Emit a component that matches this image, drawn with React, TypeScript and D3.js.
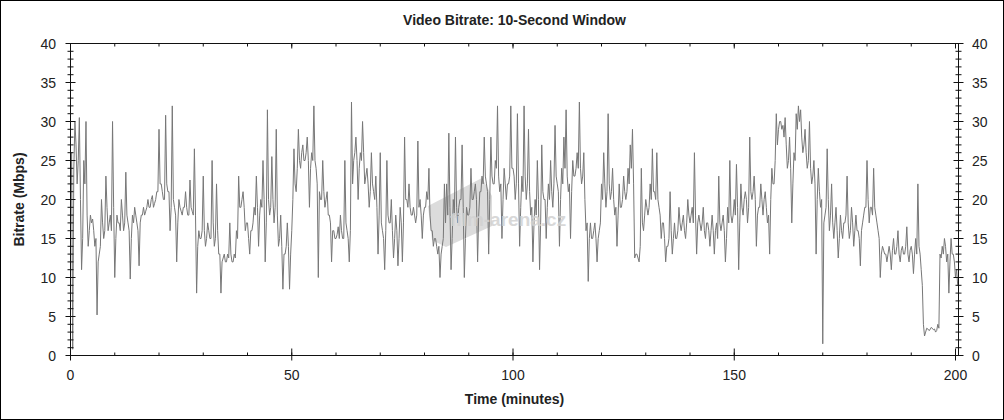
import * as d3 from "d3";

// peak samples, one every half minute (t = 0, 0.5, 1, ...)
const SAMPLE_MINUTES = 0.5;
const bitrateMbps = [
  18, 0.8, 30, 22, 30.5, 11, 25, 30, 14, 18,
  17.5, 14, 5.2, 13, 20, 15, 23, 16, 18, 30,
  10, 18, 17, 20, 16, 23.5, 17, 9.8, 18, 19,
  17, 11.5, 18, 19, 18.5, 20, 19, 20.5, 19.5, 21,
  29, 22, 20, 30.8, 21, 16, 32, 19, 12, 20,
  18.5, 19, 21, 18, 22.5, 18.5, 26.5, 8, 16, 15,
  23, 14, 17, 15, 25, 14, 22, 13, 8, 12.5,
  12, 13, 17, 12, 13, 16, 23, 19, 21, 16,
  17, 13, 16, 19, 23, 14, 20, 25, 12, 31.5,
  18, 25.5, 17, 29, 14, 18, 8.5, 13, 17, 8.5,
  16, 26.5, 21, 29, 24, 27, 25, 28, 19, 26,
  32, 24, 10, 20, 25, 19, 21, 18, 12, 16,
  15, 16.5, 18, 15, 25, 16, 12, 32.5, 25, 28,
  20, 26, 30, 22, 24, 19, 26, 21, 23, 13,
  26, 16, 11, 25, 17, 20, 12.5, 18, 11.5, 19,
  12, 28, 20, 22, 18, 19, 17, 27.5, 20, 15,
  19, 21, 24, 16, 14, 15, 13, 10, 14, 22,
  22, 28.5, 11, 20, 28, 17, 20, 27, 10, 19,
  18, 24, 20, 22, 12, 21, 23, 28, 22, 13,
  28, 22, 25, 32, 21, 15, 24, 20, 22, 32,
  24, 20, 31, 14, 23, 32, 20, 29, 18, 12,
  20, 25, 11, 27, 20, 15, 22, 25, 19, 29.5,
  22, 14, 24, 28, 31.5, 21, 15, 25, 23, 26,
  32.5, 22, 26, 16, 9.5, 17, 15, 17, 12, 16,
  22, 26, 19, 31, 20, 24, 18, 14, 22, 19,
  23, 20, 24, 27, 29, 12.5, 13, 12, 24, 16,
  20, 18, 22, 26.5, 21, 26, 19, 15, 17, 12,
  14, 21, 13, 17, 15, 19, 16, 18, 15, 20,
  17, 19, 26, 13, 18, 16, 19, 15, 17, 14,
  18, 13, 17, 23, 16, 18, 12, 19, 25, 17,
  20, 24.5, 11, 22, 18, 21, 17, 28, 20, 23,
  14, 19, 22, 18, 21, 17, 13, 24, 22, 31,
  29, 30, 29.5, 30.5, 24, 28, 17, 26, 31, 32,
  31.5, 26, 29, 24, 30, 22, 25, 13, 24, 19,
  1.5, 18, 26.5, 16, 22, 15, 19, 12.5, 18, 15,
  17, 23, 15, 19, 14, 18, 16, 11.5, 17, 19,
  25, 17, 19, 24, 18, 16, 10, 14, 13, 12,
  14, 11, 15, 13, 16, 12, 14, 13, 16.5, 12,
  14, 10.5, 15, 22, 13, 9, 2.5, 3.5, 3.2, 3.6,
  3.3, 3, 4, 13, 14, 15, 12, 8, 15, 13,
  10, 9,
];

// the dense band between the peaks, read at t = 0.25, 0.75, 1.25, ...
const bandMbps = [
  26, 24, 27, 25, 20, 15, 22, 18, 16, 17,
  16, 15, 12, 14, 17, 16, 19, 17, 16, 19,
  15, 17, 16, 18, 17, 18, 16, 15, 17, 18,
  16, 17, 18, 18, 19, 19, 20, 19, 20, 21,
  22, 21, 20, 22, 21, 19, 20, 18, 17, 19,
  18, 19, 19, 18, 19, 18, 18, 14, 15, 16,
  16, 15, 16, 15, 17, 15, 16, 13, 12, 13,
  12, 12.5, 13, 12, 12.5, 15, 19, 20, 19, 17,
  15, 16, 17, 18, 19, 18, 19, 20, 17, 20,
  19, 20, 19, 18, 15, 14, 13, 14, 14, 13,
  20, 22, 24, 25, 26, 25, 26, 25, 24, 25,
  25, 22, 21, 20, 21, 20, 18, 17, 16, 15,
  15.5, 15, 16, 15, 17, 15, 16, 22, 26, 25,
  24, 25, 26, 23, 22, 21, 22, 20, 19, 18,
  17, 15, 16, 18, 17, 16, 15, 16, 15, 17,
  17, 20, 19, 19, 18, 18, 18, 19, 18, 18,
  19, 20, 18, 16, 15, 14, 14, 13, 15, 17,
  18, 19, 15, 18, 19, 19, 20, 19, 15, 18,
  19, 20, 21, 20, 18, 21, 22, 23, 21, 20,
  23, 22, 24, 23, 22, 20, 22, 22, 23, 24,
  23, 22, 22, 19, 21, 23, 22, 21, 19, 17,
  18, 20, 17, 21, 20, 19, 20, 21, 22, 23,
  21, 20, 22, 24, 23, 22, 21, 23, 24, 24,
  24, 23, 20, 17, 15, 15, 16, 15, 15, 17,
  20, 22, 21, 22, 21, 20, 19, 18, 19, 20,
  21, 21, 22, 24, 22, 13, 12.5, 14, 17, 18,
  19, 19, 20, 21, 20, 20, 18, 17, 15, 14,
  15, 16, 15, 15, 16, 17, 17, 16, 17, 18,
  18, 17, 18, 17, 17, 17, 16, 17, 16, 16,
  16, 16, 15, 17, 17, 16, 15, 17, 18, 18,
  18, 19, 17, 19, 20, 20, 19, 21, 21, 20,
  18, 19, 20, 20, 19, 18, 20, 22, 25, 27,
  30, 29, 28, 27, 25, 24, 22, 25, 29, 30,
  28, 27, 26, 25, 24, 23, 22, 20, 21, 20,
  17, 19, 20, 18, 17, 17, 16, 15, 16, 17,
  18, 17, 16, 17, 16, 16, 15, 16, 18, 19,
  20, 19, 18, 19, 17, 15, 13, 13.5, 13, 13,
  13, 13.5, 13, 14, 13, 13.5, 13, 14, 13, 13.5,
  13, 13, 13, 14, 11, 4, 3, 3.4, 3.3, 3.5,
  3.4, 3.2, 3.5, 12.5, 13, 14, 13, 12, 13, 12,
  11,
];

const xTickValues = [0, 50, 100, 150, 200];
const xMinorTicks = d3.range(0, 201, 10);
const yTickValues = [0, 5, 10, 15, 20, 25, 30, 35, 40];
const yMinorTicks = d3.range(0, 41, 1);

const TITLE = "Video Bitrate: 10-Second Window";
const X_LABEL = "Time (minutes)";
const Y_LABEL = "Bitrate (Mbps)";
const WATERMARK = "film-arena.cz";

const W = 1004;
const H = 420;
const FONT = "'Liberation Sans', Arial, sans-serif";

export default function App() {
  const x = d3.scaleLinear().domain([0, 200]).range([70.5, 955.5]);
  const y = d3.scaleLinear().domain([0, 40]).range([355.5, 43.5]);
  const left = x(0);
  const right = 958.5;
  const top = y(40);
  const bottom = y(0);

  // merge peaks and band into one time-ordered series
  const samples: [number, number][] = [];
  bitrateMbps.forEach((v, i) => {
    samples.push([i * SAMPLE_MINUTES, v]);
    if (i < bandMbps.length) samples.push([i * SAMPLE_MINUTES + SAMPLE_MINUTES / 2, bandMbps[i]]);
  });

  const path = d3
    .line<[number, number]>()
    .x(d => x(d[0]))
    .y(d => y(d[1]))(samples) as string;

  return (
    <div style={{ position: "absolute", left: 0, top: 0 }}>
      <svg width={W} height={H} style={{ display: "block", background: "#fff" }}>
        <rect x={0.5} y={0.5} width={W - 1} height={H - 1} fill="#fff" stroke="#000" />

        <text x={(left + right) / 2} y={25} textAnchor="middle" fontFamily={FONT}
          fontWeight="bold" fontSize={14} fill="#222">{TITLE}</text>

        {/* watermark */}
        <polygon points="428,206 482,178 492,196 492,226 446,247 432,240" fill="#dcdcdc" />

        <path d={path} fill="none" stroke="#777" strokeWidth={1} />

        <text x={450} y={226} fontFamily={FONT} fontWeight="bold" fontSize={19}
          fill="#d2d2d2" opacity={0.85}>{WATERMARK}</text>

        {/* frame */}
        <rect x={left} y={top} width={right - left} height={bottom - top}
          fill="none" stroke="#111" strokeWidth={1} />

        {/* x ticks */}
        {xMinorTicks.map(t => (
          <g key={"xm" + t}>
            <line x1={x(t)} x2={x(t)} y1={bottom} y2={bottom - 3} stroke="#111" />
            <line x1={x(t)} x2={x(t)} y1={top} y2={top + 3} stroke="#111" />
          </g>
        ))}
        {xTickValues.map(t => (
          <g key={"x" + t}>
            <line x1={x(t)} x2={x(t)} y1={bottom + 5} y2={bottom - 7} stroke="#111" />
            <line x1={x(t)} x2={x(t)} y1={top} y2={top + 5} stroke="#111" />
            <text x={x(t)} y={380} textAnchor="middle" fontFamily={FONT} fontSize={14}
              fill="#222">{t}</text>
          </g>
        ))}

        {/* y ticks, both sides */}
        {yMinorTicks.map(v => (
          <g key={"ym" + v}>
            <line x1={left - 3} x2={left + 3} y1={y(v)} y2={y(v)} stroke="#111" />
            <line x1={right - 3} x2={right + 3} y1={y(v)} y2={y(v)} stroke="#111" />
          </g>
        ))}
        {yTickValues.map(v => (
          <g key={"y" + v}>
            <line x1={left - 5} x2={left + 5} y1={y(v)} y2={y(v)} stroke="#111" />
            <line x1={right - 5} x2={right + 5} y1={y(v)} y2={y(v)} stroke="#111" />
            <text x={56} y={y(v) + 5} textAnchor="end" fontFamily={FONT} fontSize={14}
              fill="#222">{v}</text>
            <text x={972} y={y(v) + 5} textAnchor="start" fontFamily={FONT} fontSize={14}
              fill="#222">{v}</text>
          </g>
        ))}

        <text x={(left + right) / 2} y={404} textAnchor="middle" fontFamily={FONT}
          fontWeight="bold" fontSize={14} fill="#222">{X_LABEL}</text>
        <text transform={`translate(24,${(top + bottom) / 2}) rotate(-90)`} textAnchor="middle"
          fontFamily={FONT} fontWeight="bold" fontSize={14} fill="#222">{Y_LABEL}</text>
      </svg>
    </div>
  );
}
